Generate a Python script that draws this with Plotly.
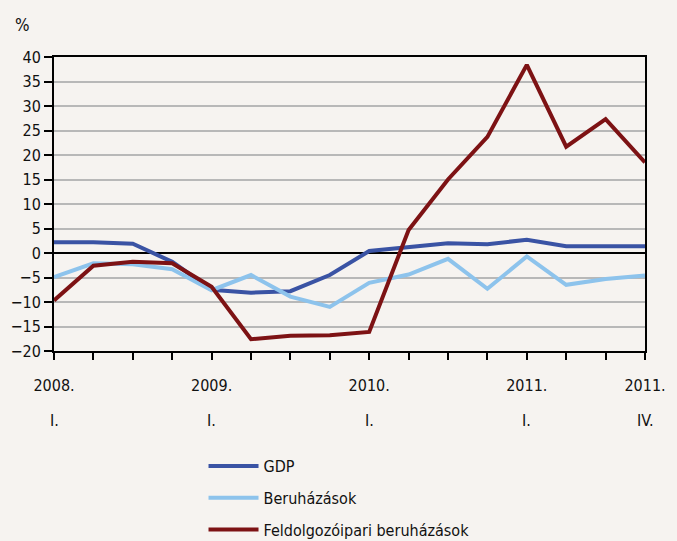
import plotly.graph_objects as go

quarters = list(range(16))
gdp = [2.2, 2.2, 1.9, -1.8, -7.5, -8.1, -7.8, -4.5, 0.4, 1.1, 2.0, 1.8, 2.7, 1.4, 1.4, 1.4]
beruhazasok = [-4.9, -2.1, -2.3, -3.3, -7.6, -4.5, -8.9, -11.0, -6.1, -4.4, -1.2, -7.3, -0.7, -6.5, -5.3, -4.6]
feldolgozo = [-9.7, -2.6, -1.8, -2.1, -6.9, -17.6, -16.9, -16.8, -16.1, 4.7, 15.0, 23.7, 38.4, 21.7, 27.3, 18.5]

label_pos = [0, 4, 8, 12, 15]
year_labels = ['2008.', '2009.', '2010.', '2011.', '2011.']
quarter_labels = ['I.', 'I.', 'I.', 'I.', 'IV.']

FONT = 'DejaVu Sans Condensed, Liberation Sans Narrow, sans-serif'
BG = '#f6f3f0'

fig = go.Figure()
fig.add_trace(go.Scatter(x=quarters, y=gdp, name='GDP', mode='lines', legendgroup='a',
                         line=dict(color='#3a53a4', width=4)))
fig.add_trace(go.Scatter(x=quarters, y=beruhazasok, name='Beruházások', mode='lines', legendgroup='b',
                         line=dict(color='#8dc3ec', width=4)))
fig.add_trace(go.Scatter(x=quarters, y=feldolgozo, name='Feldolgozóipari beruházások', mode='lines',
                         legendgroup='c', line=dict(color='#7d1214', width=4)))

# second line of the x labels (quarter), placed under the years
annotations = [dict(x=p, y=-0.235, xref='x', yref='paper', text=q, showarrow=False,
                    font=dict(size=16, color='#111'), yanchor='middle')
               for p, q in zip(label_pos, quarter_labels)]
annotations.append(dict(x=-0.07, y=1.11, xref='paper', yref='paper', text='%',
                        showarrow=False, font=dict(size=17, color='#111'),
                        xanchor='left', yanchor='middle'))

fig.update_layout(
    width=677, height=541,
    margin=dict(l=54, r=32, t=57, b=190),
    paper_bgcolor=BG, plot_bgcolor=BG,
    font=dict(family=FONT, size=16, color='#111'),
    showlegend=True,
    legend=dict(x=0.253, y=0.170, xref='paper', yref='container',
                xanchor='left', yanchor='top',
                bgcolor='rgba(0,0,0,0)', tracegroupgap=8, itemwidth=50,
                font=dict(size=16)),
    annotations=annotations,
)
fig.update_xaxes(range=[0, 15], tickmode='array', tickvals=label_pos, ticktext=year_labels,
                 automargin=False,
                 showgrid=False, zeroline=False, showline=True, linecolor='#000',
                 linewidth=2, mirror=True, ticks='outside', ticklen=7, tickcolor='#000',
                 tickwidth=1.5, ticklabelstandoff=12,
                 minor=dict(tickmode='array', tickvals=quarters, ticks='outside',
                            ticklen=7, tickcolor='#000', tickwidth=1.5, showgrid=False))
fig.update_yaxes(range=[-20, 40], dtick=5, showgrid=True, gridcolor='#b8b8b8', gridwidth=1.5,
                 automargin=False,
                 zeroline=True, zerolinecolor='#000', zerolinewidth=2,
                 showline=True, linecolor='#000', linewidth=2, mirror=True,
                 ticks='outside', ticklen=8, tickcolor='#000', tickwidth=1.5)

fig.write_html('out.html', config={'displayModeBar': False},
               post_script="document.body.style.margin='0';")
